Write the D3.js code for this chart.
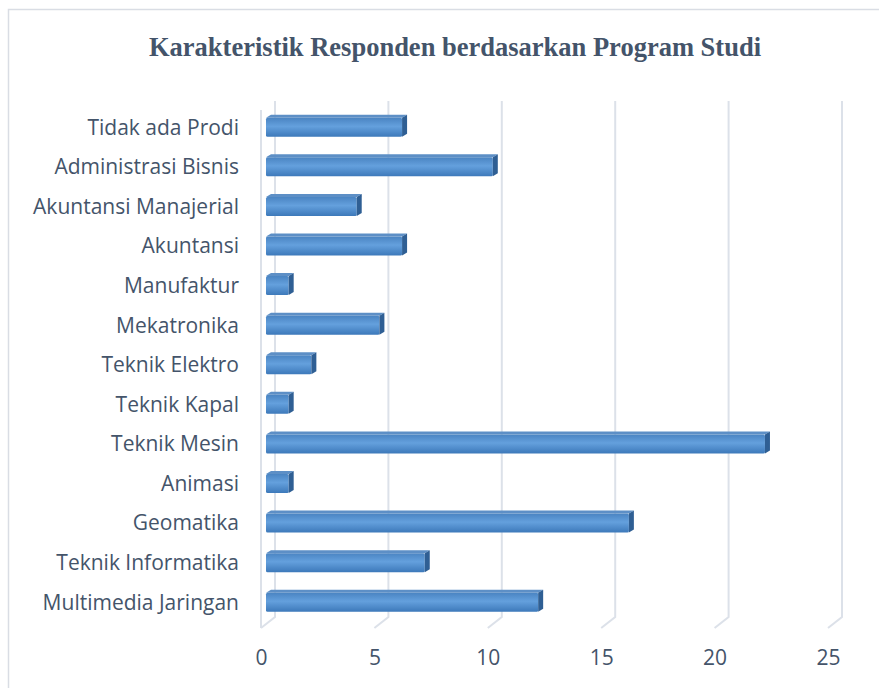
<!DOCTYPE html>
<html>
<head>
<meta charset="utf-8">
<script src="https://cdn.jsdelivr.net/npm/d3@7"></script>
<style>
  body { margin: 0; background: #fff; }
  svg { display: block; }
</style>
</head>
<body>
<script>
// ---------------------- DATA ----------------------
const categories = [
  "Tidak ada Prodi", "Administrasi Bisnis", "Akuntansi Manajerial", "Akuntansi",
  "Manufaktur", "Mekatronika", "Teknik Elektro", "Teknik Kapal", "Teknik Mesin",
  "Animasi", "Geomatika", "Teknik Informatika", "Multimedia Jaringan"
];
const values = [6, 10, 4, 6, 1, 5, 2, 1, 22, 1, 16, 7, 12];
const tickValues = [0, 5, 10, 15, 20, 25];
const title = "Karakteristik Responden berdasarkan Program Studi";

// ---------------------- LAYOUT ----------------------
const width = 879, height = 688;
const textColor = "#44546a";
const gridColor = "#dce1e9";

const svg = d3.select("body").append("svg")
  .attr("width", width)
  .attr("height", height);

// chart border (cut off at right/bottom like the reference)
svg.append("rect")
  .attr("x", 8.5).attr("y", 9.5)
  .attr("width", width + 20).attr("height", height + 20)
  .attr("fill", "#fff")
  .attr("stroke", "#d9dde4")
  .attr("stroke-width", 1.5);

// 3D: back wall, front plane and bars in between
const xBack = d3.scaleLinear().domain([0, 25]).range([275, 842]);
const xFront = d3.scaleLinear().domain([0, 25]).range([261, 828]);
const xBar = d3.scaleLinear().domain([0, 25]).range([266, 833]);

const y = d3.scaleBand()
  .domain(categories)
  .range([107.5, 622])
  .paddingInner(0.52)
  .paddingOuter(0.26);

const wallTop = 101, wallBottom = 617, floorFront = 628;

// gradients for the bar faces
const defs = svg.append("defs");
const gFront = defs.append("linearGradient")
  .attr("id", "barFront").attr("x1", 0).attr("y1", 0).attr("x2", 0).attr("y2", 1);
gFront.append("stop").attr("offset", "0%").attr("stop-color", "#4a84c2");
gFront.append("stop").attr("offset", "45%").attr("stop-color", "#64a0dd");
gFront.append("stop").attr("offset", "100%").attr("stop-color", "#3d79ba");

// gridlines: back wall verticals + floor diagonals
const grid = svg.append("g").attr("fill", "none")
  .attr("stroke", gridColor).attr("stroke-width", 2);

grid.selectAll(".gridline")
  .data(tickValues)
  .join("polyline")
  .attr("class", "gridline")
  .attr("points", d => [
    [xBack(d), wallTop],
    [xBack(d), wallBottom],
    [xFront(d), floorFront]
  ].join(" "));

// left side wall front edge
grid.append("line")
  .attr("x1", xFront(0)).attr("x2", xFront(0))
  .attr("y1", 110).attr("y2", floorFront);

// bars
const dx = 5, dy = -3;
const bars = svg.append("g").selectAll("g")
  .data(categories.map((c, i) => ({name: c, value: values[i]})))
  .join("g");

bars.append("rect")
  .attr("x", xBar(0))
  .attr("y", d => y(d.name))
  .attr("width", d => xBar(d.value) - xBar(0))
  .attr("height", y.bandwidth())
  .attr("rx", 1.5)
  .attr("fill", "url(#barFront)");

// top face
bars.append("polygon")
  .attr("points", d => {
    const x0 = xBar(0), x1 = xBar(d.value), y0 = y(d.name);
    return [[x0, y0], [x0 + dx, y0 + dy], [x1 + dx, y0 + dy], [x1, y0]].join(" ");
  })
  .attr("fill", "#5d8fc6");

// end face
bars.append("polygon")
  .attr("points", d => {
    const x1 = xBar(d.value), y0 = y(d.name), y1 = y0 + y.bandwidth();
    return [[x1, y0], [x1 + dx, y0 + dy], [x1 + dx, y1 + dy], [x1, y1]].join(" ");
  })
  .attr("fill", "#2f5f94");

// category labels
svg.append("g").selectAll("text")
  .data(categories)
  .join("text")
  .attr("x", 239)
  .attr("y", d => y(d) + y.bandwidth() / 2)
  .attr("dy", "0.35em")
  .attr("text-anchor", "end")
  .attr("font-family", "'Open Sans', sans-serif")
  .attr("font-size", 21)
  .attr("fill", textColor)
  .text(d => d);

// x axis labels
const xAxis = svg.append("g")
  .attr("transform", `translate(0, ${floorFront + 22})`)
  .call(d3.axisBottom(xFront).tickValues(tickValues).tickSize(0).tickPadding(0));
xAxis.select(".domain").remove();
xAxis.selectAll("text")
  .attr("font-family", "'Open Sans', sans-serif")
  .attr("font-size", 21)
  .attr("fill", textColor);

// title
svg.append("text")
  .attr("x", 455)
  .attr("y", 56)
  .attr("text-anchor", "middle")
  .attr("font-family", "'Liberation Serif', 'Times New Roman', serif")
  .attr("font-weight", "bold")
  .attr("font-size", 26.5)
  .attr("fill", textColor)
  .text(title);
</script>
</body>
</html>
